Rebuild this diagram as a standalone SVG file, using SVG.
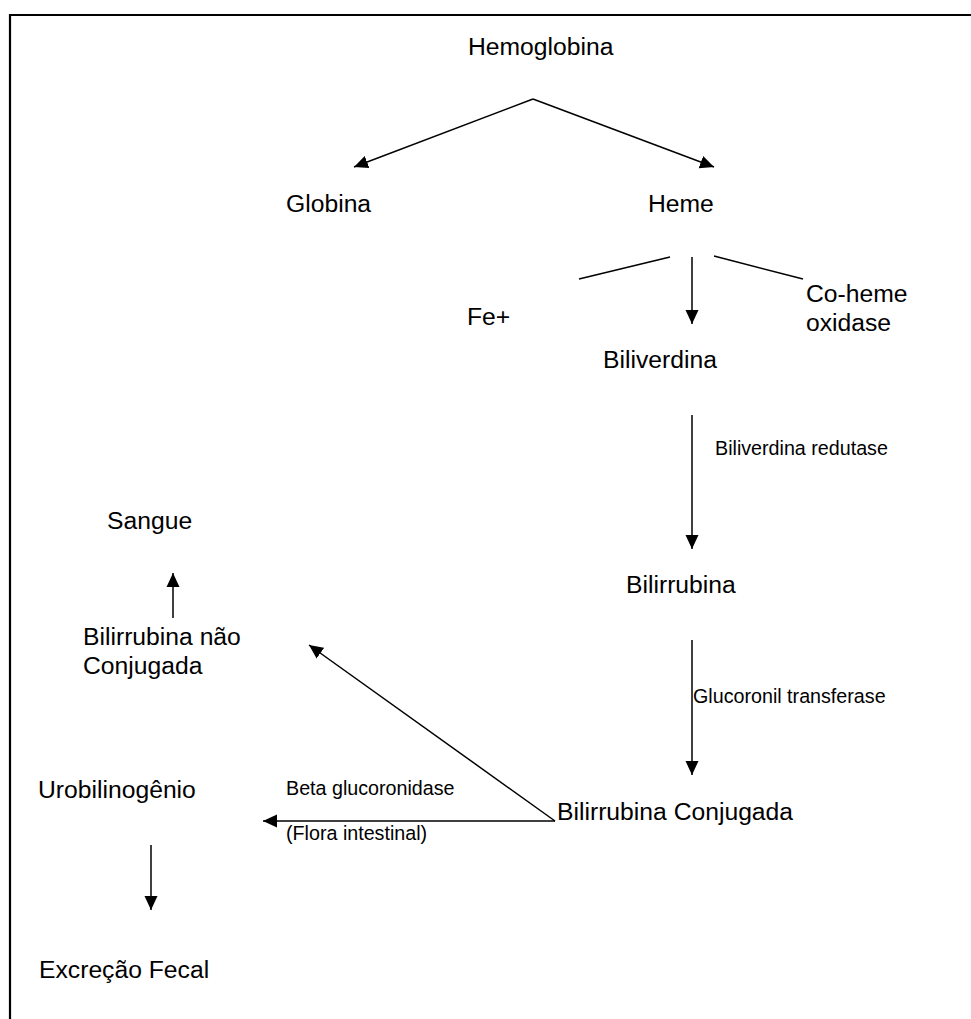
<svg xmlns="http://www.w3.org/2000/svg" width="971" height="1019" viewBox="0 0 971 1019">
<style>
.t{font-family:"Liberation Sans",Arial,sans-serif;font-size:24.7px;fill:#000}
.s{font-family:"Liberation Sans",Arial,sans-serif;font-size:19.7px;fill:#000}
.c{stroke:#000;stroke-width:1.5;fill:none}
.a{marker-end:url(#ah)}
</style>
<defs>
<marker id="ah" markerUnits="userSpaceOnUse" markerWidth="15" markerHeight="14" refX="14" refY="7" orient="auto" viewBox="0 0 15 14">
<path d="M0,0.5 L14,7 L0,13.5 z" fill="#000"/>
</marker>
</defs>
<rect width="971" height="1019" fill="#fff"/>
<g id="border" stroke="#000" stroke-width="2.2" fill="none">
<path d="M10,1019 L10,15 L971,15"/>
</g>
<g id="connectors">
<line class="c a" x1="533" y1="99" x2="354" y2="167"/>
<line class="c a" x1="533" y1="99" x2="714" y2="167"/>
<line class="c" x1="579" y1="279" x2="670" y2="257"/>
<line class="c" x1="714" y1="256" x2="803" y2="279"/>
<line class="c a" x1="692" y1="257" x2="692" y2="324"/>
<line class="c a" x1="692" y1="415" x2="692" y2="549"/>
<line class="c a" x1="692" y1="640" x2="692" y2="775"/>
<line class="c a" x1="173" y1="618" x2="173" y2="573"/>
<line class="c a" x1="555" y1="821" x2="309" y2="645"/>
<line class="c a" x1="555" y1="821" x2="263" y2="821"/>
<line class="c a" x1="151" y1="845" x2="151" y2="910"/>
</g>
<g id="hemoglobina"><text class="t" x="468" y="55">Hemoglobina</text></g>
<g id="globina"><text class="t" x="286" y="212">Globina</text></g>
<g id="heme"><text class="t" x="648" y="212">Heme</text></g>
<g id="fe"><text class="t" x="467" y="325">Fe+</text></g>
<g id="coheme"><text class="t" x="806" y="302">Co-heme</text><text class="t" x="806" y="331">oxidase</text></g>
<g id="biliverdina"><text class="t" x="603" y="368">Biliverdina</text></g>
<g id="lbl-redutase"><text class="s" x="715" y="455">Biliverdina redutase</text></g>
<g id="bilirrubina"><text class="t" x="626" y="593">Bilirrubina</text></g>
<g id="lbl-transferase"><text class="s" x="693" y="703">Glucoronil transferase</text></g>
<g id="conjugada"><text class="t" x="557" y="820">Bilirrubina Conjugada</text></g>
<g id="sangue"><text class="t" x="107" y="529">Sangue</text></g>
<g id="naoconjugada"><text class="t" x="83" y="645">Bilirrubina não</text><text class="t" x="83" y="674">Conjugada</text></g>
<g id="urobilinogenio"><text class="t" x="38" y="798">Urobilinogênio</text></g>
<g id="lbl-beta"><text class="s" x="286" y="795">Beta glucoronidase</text><text class="s" x="286" y="840">(Flora intestinal)</text></g>
<g id="excrecao"><text class="t" x="39" y="978">Excreção Fecal</text></g>
</svg>
